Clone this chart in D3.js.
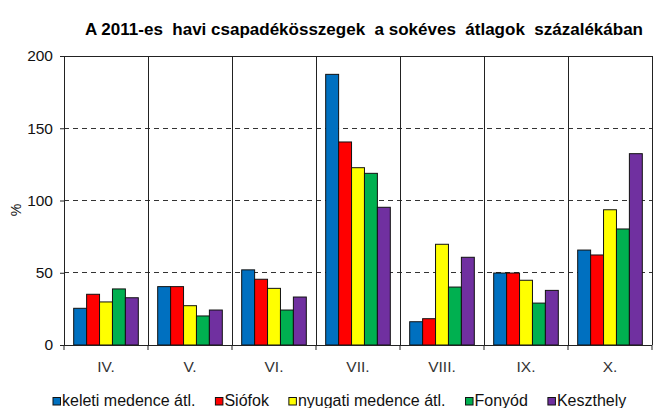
<!DOCTYPE html>
<html><head><meta charset="utf-8">
<script src="https://cdn.jsdelivr.net/npm/d3@7"></script>
<style>body{margin:0;background:#fff}svg{display:block}svg text{font-family:"Liberation Sans",Arial,sans-serif}</style>
</head><body>
<script>
const categories = ["IV.","V.","VI.","VII.","VIII.","IX.","X."];
const seriesNames = ["keleti medence átl.","Siófok","nyugati medence átl.","Fonyód","Keszthely"];
const keleti   = [25.4, 40.4, 52.0, 187.3, 16.1, 49.8, 65.7];
const siofok   = [35.1, 40.4, 45.5, 140.5, 18.2, 49.8, 62.3];
const nyugati  = [29.8, 27.2, 39.2, 122.7, 69.7, 44.8, 93.6];
const fonyod   = [38.8, 20.1, 24.2, 118.8, 40.1, 29.0, 80.3];
const keszthely= [32.7, 24.2, 33.2, 95.3, 60.7, 37.8, 132.4];
const yTicks = [0, 50, 100, 150, 200];
const colors = ["#0070C0","#FF0000","#FFFF00","#00B050","#7030A0"];
const series = [keleti, siofok, nyugati, fonyod, keszthely];

const FONT = "Liberation Sans, Arial, sans-serif";
const W = 653, H = 408;
const m = {left:64, right:1, top:56, bottom:63};
const svg = d3.select("body").append("svg").attr("width", W).attr("height", H)
  .attr("font-family", FONT);

const x = d3.scaleBand().domain(categories).range([m.left, W - m.right]).paddingInner(0).paddingOuter(0);
const y = d3.scaleLinear().domain([0, 200]).range([H - m.bottom, m.top]);
const gap = 1.5;
const x1 = d3.scaleBand().domain(d3.range(series.length)).range([0, x.bandwidth()])
  .paddingInner(0).paddingOuter(gap/2);

// Title
svg.append("text").attr("x", 364).attr("y", 35).attr("text-anchor","middle")
  .attr("font-weight","bold").attr("font-size", 16).attr("fill","#000")
  .attr("textLength", 558).attr("lengthAdjust","spacingAndGlyphs")
  .style("white-space","pre")
  .text("A 2011-es  havi csapadékösszegek  a sokéves  átlagok  százalékában");

// dashed gridlines
svg.append("g").selectAll("line").data(yTicks.filter(d => d > 0 && d < 200)).join("line")
  .attr("x1", m.left).attr("x2", W - m.right).attr("y1", d => y(d)).attr("y2", d => y(d))
  .attr("stroke","#333").attr("stroke-width",1).attr("stroke-dasharray","5,4")
  .attr("shape-rendering","crispEdges");
// top border
svg.append("line").attr("x1", m.left).attr("x2", W - m.right).attr("y1", y(200)).attr("y2", y(200))
  .attr("stroke","#222").attr("shape-rendering","crispEdges");
// vertical category lines
const bounds = categories.map(c => x(c)).concat([x(categories[categories.length-1]) + x.bandwidth()]);
svg.append("g").selectAll("line").data(bounds.slice(1)).join("line")
  .attr("x1", d => d).attr("x2", d => d).attr("y1", y(200)).attr("y2", y(0))
  .attr("stroke","#222").attr("shape-rendering","crispEdges");

// bars
const g = svg.append("g");
series.forEach((vals, si) => {
  g.append("g").selectAll("rect").data(vals).join("rect")
    .attr("x", (d,i) => x(categories[i]) + x1(si))
    .attr("width", x1.bandwidth())
    .attr("y", d => y(d)).attr("height", d => y(0) - y(d))
    .attr("fill", colors[si]).attr("stroke","#111").attr("stroke-width",1);
});

// y axis
const yAxis = d3.axisLeft(y).tickValues(yTicks).tickSize(4).tickPadding(7);
const ya = svg.append("g").attr("transform", `translate(${m.left},0)`).call(yAxis)
  .attr("font-family", FONT).attr("font-size", 15.5);
ya.select(".domain").attr("stroke","#222");
ya.selectAll(".tick line").attr("stroke","#222");
ya.selectAll("text").attr("fill","#111");

// x axis
const xa = svg.append("g").attr("transform", `translate(0,${y(0)})`);
xa.append("line").attr("x1", m.left).attr("x2", W - m.right).attr("stroke","#222").attr("shape-rendering","crispEdges");
xa.selectAll("line.tk").data(bounds).join("line").attr("class","tk")
  .attr("x1", d => d).attr("x2", d => d).attr("y1", 0).attr("y2", 5).attr("stroke","#222");
xa.selectAll("text").data(categories).join("text")
  .attr("x", d => x(d) + x.bandwidth()/2).attr("y", 27).attr("text-anchor","middle")
  .attr("font-size", 15.5).attr("fill","#333").text(d => d);

// y label
svg.append("text").attr("transform","translate(21,210) rotate(-90)").attr("text-anchor","middle")
  .attr("font-size", 14).attr("fill","#111").text("%");

// legend
const lg = svg.append("g").attr("transform","translate(0,405)");
let lx = 53;
seriesNames.forEach((name, i) => {
  lg.append("rect").attr("x", lx).attr("y", -7.5).attr("width", 7.5).attr("height", 7.5)
    .attr("fill", colors[i]).attr("stroke","#111").attr("stroke-width",1);
  const t = lg.append("text").attr("x", lx + 9).attr("y", 0.5).attr("font-size", 16)
    .attr("fill","#111").text(name);
  const w = t.node().getComputedTextLength();
  lx = lx + 9 + w + 20;
});
</script>
</body></html>
